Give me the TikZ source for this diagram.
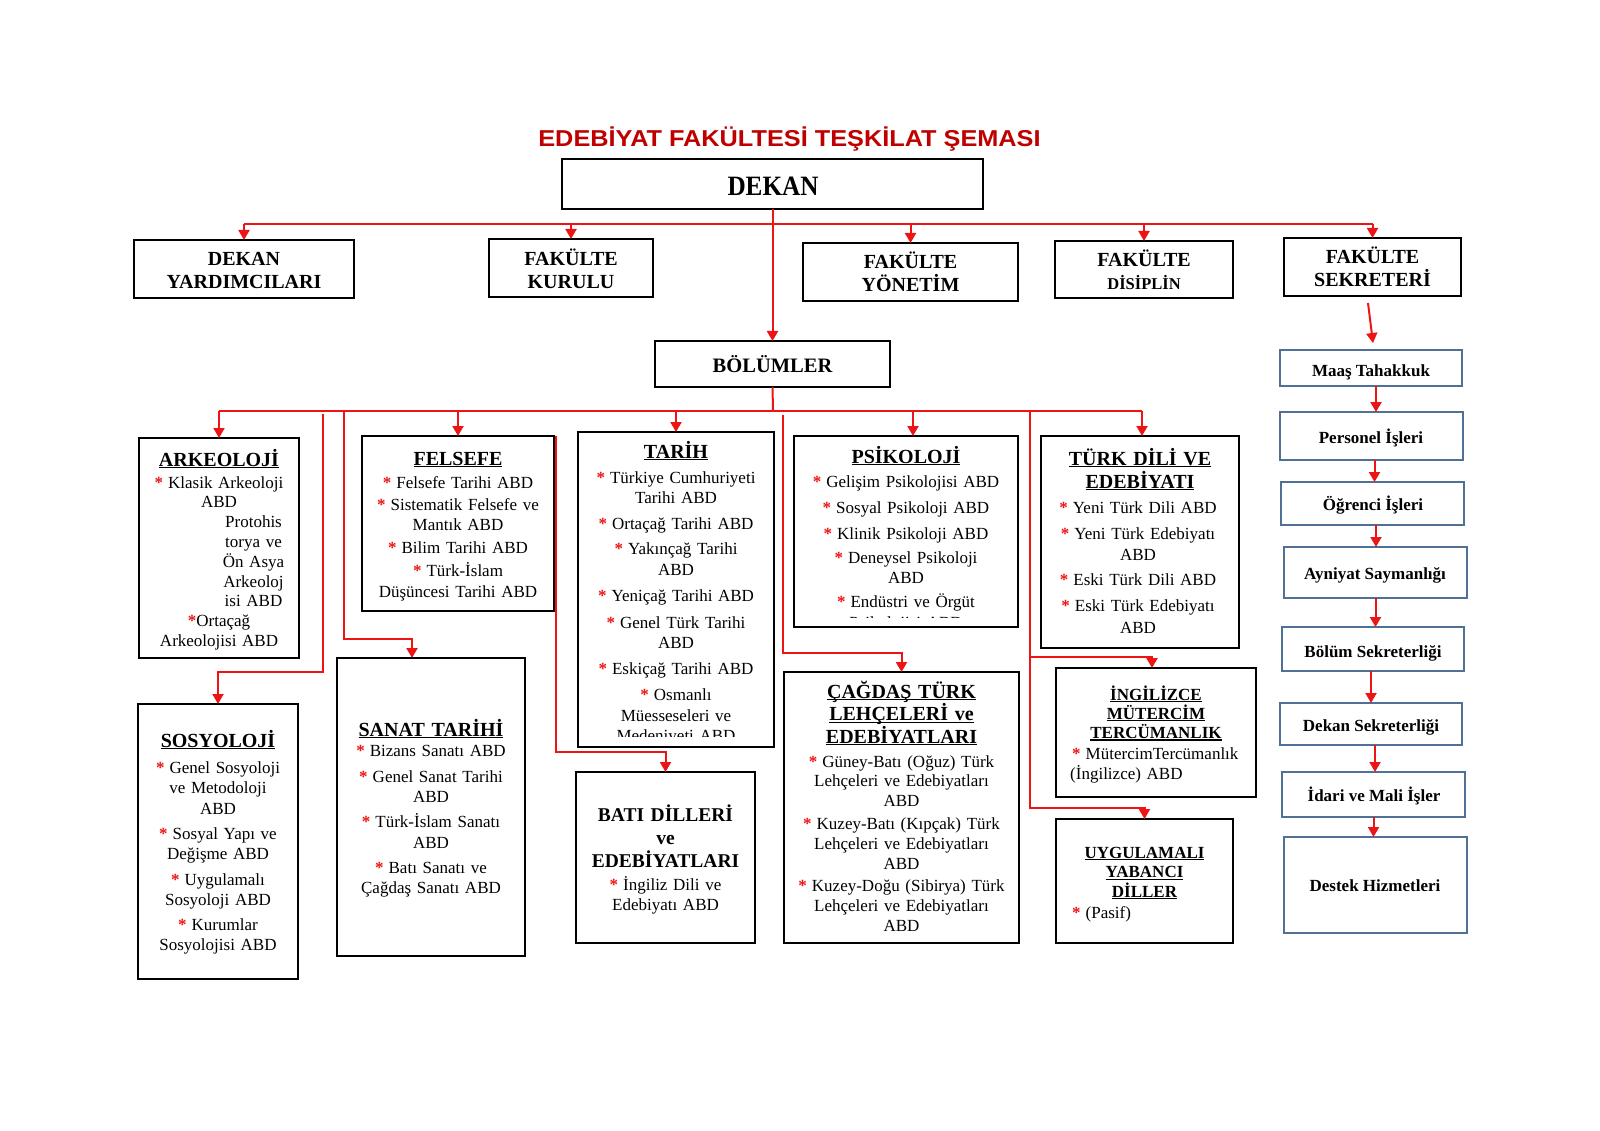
\documentclass[tikz,border=0pt]{standalone}
\usepackage{fontspec}
\setmainfont{Liberation Serif}
\newfontfamily\titlefont{Liberation Sans}[FakeStretch=1.1]
\newfontfamily\dekanfont{Liberation Serif}[FakeStretch=0.9]
\usetikzlibrary{arrows.meta,fit}
\definecolor{lred}{RGB}{236,20,20}
\definecolor{tred}{RGB}{192,0,0}
\definecolor{bblue}{RGB}{80,112,150}
\newcommand\st{{\color{lred}\bfseries *}\hspace{5pt}}
\newcommand\stn{{\color{lred}\bfseries *}}
\newcommand\myul[1]{\leavevmode\setbox0\hbox{#1}\rlap{\rule[-2.2pt]{\wd0}{1.2pt}}\box0}
\tikzset{
  bx/.style={draw=black, line width=2.2pt, inner sep=0pt, outer sep=0pt},
  bbx/.style={draw=bblue, line width=2pt, inner sep=0pt, outer sep=0pt},
  ln/.style={draw=lred, line width=2pt},
  arr/.style={ln, -{Triangle[width=11pt,length=10pt]}},
  hd/.style={inner sep=0pt, anchor=base, align=center, font=\fontsize{20}{22.5}\selectfont\bfseries},
  hds/.style={inner sep=0pt, anchor=base, align=center, font=\fontsize{17}{19.2}\selectfont\bfseries},
  bd/.style={inner sep=0pt, anchor=base, align=center, font=\fontsize{17}{20.5}\selectfont},
  bdl/.style={inner sep=0pt, anchor=base west, align=left, font=\fontsize{17}{20}\selectfont},
  sk/.style={inner sep=0pt, anchor=base, font=\fontsize{17}{20}\selectfont\bfseries},
}
\begin{document}
\begin{tikzpicture}[x=1pt,y=-1pt]
\path[use as bounding box, fill=white] (0,0) rectangle (1600,1131);

% title
\node[inner sep=0pt, anchor=base, text=tred, font=\titlefont\fontsize{23}{26}\selectfont\bfseries] (title) at (789.5,147) {EDEBİYAT FAKÜLTESİ TEŞKİLAT ŞEMASI};

% DEKAN
\node[bx, fit={(562,159) (983,209)}] (dekan) {};
\node[inner sep=0pt, anchor=base, font=\dekanfont\fontsize{28}{30}\selectfont\bfseries] (dekanT) at (773,196) {DEKAN};

% top row
\node[bx, fit={(134,240) (354,298)}] (dy) {};
\node[hd, text width=210pt] (dyT) at (244,266) {DEKAN\\YARDIMCILARI};
\node[bx, fit={(489,239) (653,297)}] (fk) {};
\node[hd, text width=156pt] (fkT) at (571,266) {FAKÜLTE\\KURULU};
\node[bx, fit={(803,243) (1018,301)}] (fy) {};
\node[hd, text width=205pt] (fyT) at (910.5,269) {FAKÜLTE\\YÖNETİM};
\node[bx, fit={(1055,241) (1233,298)}] (fd) {};
\node[hd, text width=170pt] (fdT) at (1144,267) {FAKÜLTE\\{\fontsize{16.5}{18}\selectfont DİSİPLİN}};
\node[bx, fit={(1284,238) (1461,296)}] (fs) {};
\node[hd, text width=170pt] (fsT) at (1372.5,264) {FAKÜLTE\\SEKRETERİ};

% BÖLÜMLER
\node[bx, fit={(655,341) (890,387)}] (bolum) {};
\node[inner sep=0pt, anchor=base, font=\fontsize{20.5}{22}\selectfont\bfseries] (bolumT) at (772.5,372) {BÖLÜMLER};

% ARKEOLOJİ
\node[bx, fit={(139,438) (299,658)}] (ark) {};
\node[hd, text width=152pt] (arkH) at (219,466) {\myul{ARKEOLOJİ}};
\node[bd, text width=152pt, font=\fontsize{17}{19.8}\selectfont] (arkB) at (219,488) {\st Klasik Arkeoloji\\ABD\\\hspace*{69pt}Protohis\\\hspace*{69pt}torya ve\\\hspace*{69pt}Ön Asya\\\hspace*{69pt}Arkeoloj\\\hspace*{69pt}isi ABD\\\stn Ortaçağ\\Arkeolojisi ABD};

% FELSEFE
\node[bx, fit={(362,436) (554,611)}] (fel) {};
\node[hd, text width=184pt] (felH) at (458,465) {\myul{FELSEFE}};
\node[bd, text width=184pt] (felB) at (458,488) {\st Felsefe Tarihi ABD\\[1.5pt]\st Sistematik Felsefe ve\\Mantık ABD\\[2.5pt]\st Bilim Tarihi ABD\\[2.5pt]\st Türk-İslam\\Düşüncesi Tarihi ABD};

% TARİH
\node[bx, fit={(578,432) (774,747)}] (tar) {};
\node[hd, text width=188pt] (tarH) at (676,458) {\myul{TARİH}};
\begin{scope}
\clip (580,434) rectangle (772,736);
\node[bd, text width=188pt] (tarB) at (676,483) {\st Türkiye Cumhuriyeti\\Tarihi ABD\\[5pt]\st Ortaçağ Tarihi ABD\\[5pt]\st Yakınçağ Tarihi\\ABD\\[6pt]\st Yeniçağ Tarihi ABD\\[6pt]\st Genel Türk Tarihi\\ABD\\[5pt]\st Eskiçağ Tarihi ABD\\[6pt]\st Osmanlı\\Müesseseleri ve\\Medeniyeti ABD};
\end{scope}

% PSİKOLOJİ
\node[bx, fit={(794,436) (1018,627)}] (psi) {};
\node[hd, text width=216pt] (psiH) at (906,463) {\myul{PSİKOLOJİ}};
\begin{scope}
\clip (796,438) rectangle (1016,617);
\node[bd, text width=216pt] (psiB) at (906,487) {\st Gelişim Psikolojisi ABD\\[5.5pt]\st Sosyal Psikoloji ABD\\[5.5pt]\st Klinik Psikoloji ABD\\[3.5pt]\st Deneysel Psikoloji\\ABD\\[3.5pt]\st Endüstri ve Örgüt\\Psikolojisi ABD};
\end{scope}

% TÜRK DİLİ VE EDEBİYATI
\node[bx, fit={(1041,436) (1239,648)}] (tdl) {};
\node[hd, text width=190pt, font=\fontsize{20}{23}\selectfont\bfseries] (tdlH) at (1140,465) {\myul{TÜRK DİLİ VE}\\\myul{EDEBİYATI}};
\node[bd, text width=190pt, font=\fontsize{17}{21.5}\selectfont] (tdlB) at (1138,513) {\st Yeni Türk Dili ABD\\[4.5pt]\st Yeni Türk Edebiyatı\\ABD\\[3.5pt]\st Eski Türk Dili ABD\\[4.5pt]\st Eski Türk Edebiyatı\\ABD};

% SOSYOLOJİ
\node[bx, fit={(138,704) (298,979)}] (sos) {};
\node[hd, text width=152pt] (sosH) at (218,747) {\myul{SOSYOLOJİ}};
\node[bd, text width=152pt] (sosB) at (218,773) {\st Genel Sosyoloji\\ve Metodoloji\\ABD\\[4.5pt]\st Sosyal Yapı ve\\Değişme ABD\\[5pt]\st Uygulamalı\\Sosyoloji ABD\\[4pt]\st Kurumlar\\Sosyolojisi ABD};

% SANAT TARİHİ
\node[bx, fit={(337,658) (525,956)}] (san) {};
\node[hd, text width=180pt] (sanH) at (431,736) {\myul{SANAT TARİHİ}};
\node[bd, text width=180pt] (sanB) at (431,756) {\st Bizans Sanatı ABD\\[5.5pt]\st Genel Sanat Tarihi\\ABD\\[4.5pt]\st Türk-İslam Sanatı\\ABD\\[4.5pt]\st Batı Sanatı ve\\Çağdaş Sanatı ABD};

% BATI DİLLERİ
\node[bx, fit={(576,772) (755,943)}] (bat) {};
\node[hd, text width=171pt, font=\fontsize{19.5}{23}\selectfont\bfseries] (batH) at (665.5,821) {BATI DİLLERİ\\ve\\EDEBİYATLARI};
\node[bd, text width=171pt, font=\fontsize{17}{20}\selectfont] (batB) at (665.5,890) {\st İngiliz Dili ve\\Edebiyatı ABD};

% ÇAĞDAŞ
\node[bx, fit={(784,672) (1019,943)}] (cag) {};
\node[hd, text width=227pt] (cagH) at (901.5,698) {\myul{ÇAĞDAŞ TÜRK}\\\myul{LEHÇELERİ ve}\\\myul{EDEBİYATLARI}};
\node[bd, text width=227pt, font=\fontsize{17}{19.8}\selectfont] (cagB) at (901.5,767) {\st Güney-Batı (Oğuz) Türk\\Lehçeleri ve Edebiyatları\\ABD\\[3pt]\st Kuzey-Batı (Kıpçak) Türk\\Lehçeleri ve Edebiyatları\\ABD\\[3pt]\st Kuzey-Doğu (Sibirya) Türk\\Lehçeleri ve Edebiyatları\\ABD};

% İNGİLİZCE MÜTERCİM TERCÜMANLIK
\node[bx, fit={(1056,668) (1256,797)}] (ing) {};
\node[hds, text width=192pt] (ingH) at (1156,700) {\myul{İNGİLİZCE}\\\myul{MÜTERCİM}\\\myul{TERCÜMANLIK}};
\node[bdl, text width=182pt] (ingB) at (1070,759) {\hspace*{2pt}\st MütercimTercümanlık\\(İngilizce) ABD};

% UYGULAMALI YABANCI DİLLER
\node[bx, fit={(1056,819) (1233,943)}] (uyg) {};
\node[hds, text width=169pt, font=\fontsize{17}{19.5}\selectfont\bfseries] (uygH) at (1144.5,858) {\myul{UYGULAMALI}\\\myul{YABANCI}\\\myul{DİLLER}};
\node[bdl, text width=150pt] (uygB) at (1072,918) {\st(Pasif)};

% right column
\node[bbx, fit={(1280,350) (1462,386)}] (maas) {};
\node[sk] (maasT) at (1371,376) {Maaş Tahakkuk};
\node[bbx, fit={(1280,412) (1463,460)}] (per) {};
\node[sk] (perT) at (1371,443) {Personel İşleri};
\node[bbx, fit={(1281,482) (1464,525)}] (ogr) {};
\node[sk] (ogrT) at (1373,510) {Öğrenci İşleri};
\node[bbx, fit={(1284,547) (1467,598)}] (ayn) {};
\node[sk] (aynT) at (1375,579) {Ayniyat Saymanlığı};
\node[bbx, fit={(1282,627) (1464,671)}] (bsek) {};
\node[sk] (bsekT) at (1373,657) {Bölüm Sekreterliği};
\node[bbx, fit={(1280,703) (1462,745)}] (dsek) {};
\node[sk] (dsekT) at (1371,731) {Dekan Sekreterliği};
\node[bbx, fit={(1282,772) (1465,817)}] (ida) {};
\node[sk] (idaT) at (1374,801) {İdari ve Mali İşler};
\node[bbx, fit={(1284,837) (1467,933)}] (des) {};
\node[sk] (desT) at (1375,891) {Destek Hizmetleri};

% ---------- connectors ----------
\coordinate (h1) at (773,224);
\draw[ln] (dy.north |- h1) -- (fs.north |- h1);
\draw[arr] (dekan.south) -- (bolum.north);
\foreach \n in {dy,fk,fy,fd,fs} {\draw[arr] (\n.north |- h1) -- (\n.north);}

\coordinate (h2) at (773,411);
\draw[ln] (bolum.south) -- (h2);
\draw[ln] (ark.north |- h2) -- ([xshift=2pt]tdl.north |- h2);
\draw[arr] (ark.north |- h2) -- (ark.north);
\draw[arr] (fel.north |- h2) -- (fel.north);
\draw[arr] (tar.north |- h2) -- (tar.north);
\draw[arr] ([xshift=7pt]psi.north |- h2) -- ([xshift=7pt]psi.north);
\draw[arr] ([xshift=2pt]tdl.north |- h2) -- ([xshift=2pt]tdl.north);

% to SOSYOLOJİ
\coordinate (s0) at (323,414);
\coordinate (s1) at (323,672);
\draw[arr] (s0) -- (s1) -| (sos.north);
% to SANAT TARİHİ
\coordinate (t0) at (344,411);
\coordinate (t1) at (344,639);
\draw[arr] (t0) -- (t1) -| ([xshift=-19pt]san.north);
% to BATI DİLLERİ
\coordinate (b0) at (555.5,436);
\coordinate (b1) at (555.5,752);
\draw[arr] (b0) -- (b1) -| (bat.north);
% to ÇAĞDAŞ
\coordinate (c0) at (783,415);
\coordinate (c1) at (783,653);
\draw[arr] (c0) -- (c1) -| (cag.north);
% to İNGİLİZCE and UYGULAMALI
\coordinate (u0) at (1030,411);
\coordinate (u1) at (1030,657);
\coordinate (u2) at (1030,808);
\draw[arr] (u0) -- (u2) -| (uyg.north);
\draw[arr] (u1) -| ([xshift=-4pt]ing.north);

% right column
\coordinate (fs0) at (1368,303);
\draw[arr] (fs0) -- ([xshift=2pt,yshift=7pt]maas.north);
\draw[arr] ([xshift=5pt]maas.south) -- ([xshift=5pt]maas.south |- per.north);
\draw[arr] ([xshift=3pt]per.south) -- ([xshift=3pt]per.south |- ogr.north);
\draw[arr] ([xshift=3.5pt]ogr.south) -- ([xshift=3.5pt]ogr.south |- ayn.north);
\draw[arr] (ayn.south) -- (ayn.south |- bsek.north);
\draw[arr] ([xshift=-2pt]bsek.south) -- ([xshift=-2pt]bsek.south |- dsek.north);
\draw[arr] ([xshift=4pt]dsek.south) -- ([xshift=4pt]dsek.south |- ida.north);
\draw[arr] (ida.south) -- (ida.south |- des.north);
\end{tikzpicture}
\end{document}
